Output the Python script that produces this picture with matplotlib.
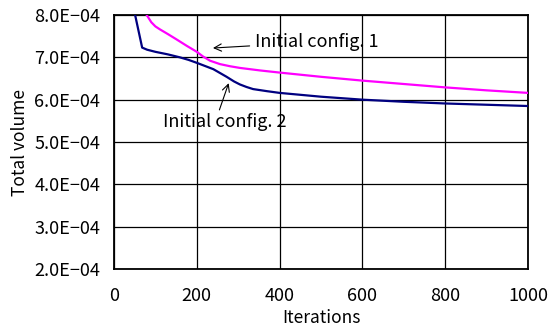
import matplotlib
matplotlib.use("Agg")
import matplotlib.pyplot as plt

plt.rcParams['font.family'] = ['Noto Sans CJK JP', 'DejaVu Sans']

# Data
iter1 = [79, 90, 100, 111, 130, 150, 176, 200, 215, 232, 256, 280, 304, 353, 400,
         500, 600, 700, 800, 900, 1000]
vol1 = [8.0e-4, 7.83e-4, 7.73e-4, 7.66e-4, 7.55e-4, 7.43e-4, 7.27e-4, 7.13e-4, 7.02e-4,
        6.92e-4, 6.84e-4, 6.79e-4, 6.75e-4, 6.69e-4, 6.64e-4,
        6.54e-4, 6.45e-4, 6.37e-4, 6.29e-4, 6.22e-4, 6.16e-4]
iter2 = [51, 68, 80, 100, 130, 159, 180, 200, 240, 272, 290, 304, 320, 336, 370, 400,
         500, 600, 700, 800, 900, 1000]
vol2 = [8.0e-4, 7.23e-4, 7.18e-4, 7.13e-4, 7.07e-4, 7.0e-4, 6.94e-4, 6.87e-4, 6.72e-4,
        6.54e-4, 6.43e-4, 6.36e-4, 6.30e-4, 6.25e-4, 6.20e-4, 6.16e-4,
        6.07e-4, 6.0e-4, 5.95e-4, 5.91e-4, 5.88e-4, 5.85e-4]

xticks = [0, 200, 400, 600, 800, 1000]
yticks = [2e-4, 3e-4, 4e-4, 5e-4, 6e-4, 7e-4, 8e-4]
ytick_labels = ["2.0E\u221204", "3.0E\u221204", "4.0E\u221204", "5.0E\u221204",
                "6.0E\u221204", "7.0E\u221204", "8.0E\u221204"]

fig = plt.figure(figsize=(5.48, 3.35), dpi=100)
ax = fig.add_axes([114/548, 1 - 269/335, (528-114)/548, (269-15)/335])

ax.plot(iter1, vol1, color='#FF00FF', lw=1.6, zorder=3)
ax.plot(iter2, vol2, color='#000080', lw=1.6, zorder=3)

ax.set_xlim(0, 1000)
ax.set_ylim(2e-4, 8e-4)
ax.set_xticks(xticks)
ax.set_xticklabels([str(t) for t in xticks])
ax.set_yticks(yticks)
ax.set_yticklabels(ytick_labels)
ax.grid(True, color='black', lw=0.9)
ax.set_axisbelow(True)
for s in ax.spines.values():
    s.set_linewidth(1.3)
    s.set_color('black')
ax.tick_params(length=0, labelsize=13)
ax.tick_params(axis='x', pad=13)
ax.tick_params(axis='y', pad=10)

ax.set_xlabel("Iterations", fontsize=12.5, labelpad=3)
ax.set_ylabel("Total volume", fontsize=12.5, labelpad=4)

ax.annotate("Initial config. 1", xy=(239, 7.22e-4), xytext=(341, 7.36e-4),
            fontsize=13, va='center', ha='left',
            arrowprops=dict(arrowstyle='->', color='black', lw=0.8, shrinkA=2, shrinkB=0))
ax.annotate("Initial config. 2", xy=(277, 6.39e-4), xytext=(118, 5.48e-4),
            fontsize=13, va='center', ha='left',
            arrowprops=dict(arrowstyle='->', color='black', lw=0.8, shrinkA=0, shrinkB=0,
                            relpos=(0.45, 1.0)))

fig.savefig("out.png", dpi=100)
